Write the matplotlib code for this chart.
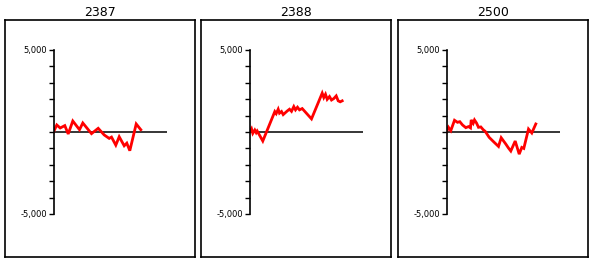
import matplotlib
matplotlib.use('Agg')
import matplotlib.pyplot as plt
from matplotlib.ticker import MultipleLocator, FixedLocator

titles = ['2387', '2388', '2500']

x_2387 = [0, 3.3, 6.7, 11.3, 14.7, 19.3, 26, 29.3, 38, 44.7, 50.7, 55.7, 58, 62.3,
          65.7, 70.7, 73.3, 76.3, 82.7, 87.3]
y_2387 = [0, 430, 245, 390, -120, 670, 140, 550, -100, 225, -180, -390, -310, -800,
          -290, -840, -680, -1140, 490, 140]

x_2388 = [0, 2, 3.3, 5.3, 6.7, 7.7, 13.3, 25.3, 26.7, 28.7, 30, 32, 33.7, 37.7, 40,
          42, 44.3, 46, 48, 50, 52.7, 62, 72.7, 74.3, 76, 77.7, 80, 82, 84.3, 86.7,
          88.7, 90.7, 92.7]
y_2388 = [0, 200, -80, 120, -40, 60, -550, 1245, 1120, 1390, 1150, 1250, 1060, 1280,
          1390, 1260, 1550, 1350, 1510, 1350, 1430, 800, 2370, 2100, 2300, 1990, 2160,
          1950, 2040, 2200, 1900, 1840, 1900]

x_2500 = [0, 2, 4.3, 8, 11, 13.3, 16, 19.3, 22, 24, 24.7, 26.7, 28, 30, 32, 34.3,
          36.7, 38.7, 42.7, 47.7, 52, 54.7, 59.3, 62, 64.3, 68.7, 72.7, 75.3, 77.3,
          82, 85.3, 89.3]
y_2500 = [0, 285, 80, 715, 590, 630, 430, 265, 330, 250, 735, 530, 735, 550, 285,
          310, 140, 40, -330, -630, -880, -350, -735, -980, -1160, -550, -1350, -940,
          -1000, 180, -60, 490]

series = [(x_2387, y_2387), (x_2388, y_2388), (x_2500, y_2500)]

W, H = 595, 263
fig = plt.figure(figsize=(W / 100, H / 100), dpi=100)

box_left = [5, 201, 398]
box_w, box_top, box_bot = 190, 20, 257
axis_off, axis_len = 48.5, 113
ytop, ybot = 50, 214

for i in range(3):
    # outer frame with title
    bx = fig.add_axes([box_left[i] / W, 1 - box_bot / H, box_w / W, (box_bot - box_top) / H])
    bx.set_xticks([])
    bx.set_yticks([])
    for s in bx.spines.values():
        s.set_linewidth(1.2)
    bx.set_title(titles[i], fontsize=9, pad=3)

    # inner plot
    ax = fig.add_axes([(box_left[i] + axis_off) / W, 1 - ybot / H, axis_len / W, (ybot - ytop) / H])
    ax.patch.set_alpha(0)
    for s in ['top', 'right', 'bottom']:
        ax.spines[s].set_visible(False)
    ax.spines['left'].set_linewidth(1.2)
    ax.set_ylim(-5000, 5000)
    ax.set_xlim(0, 113)
    ax.set_xticks([])
    ax.yaxis.set_major_locator(FixedLocator([-5000, 5000]))
    ax.yaxis.set_minor_locator(MultipleLocator(1000))
    ax.set_yticklabels(['-5,000', '5,000'])
    ax.tick_params(axis='y', which='both', length=3.5, width=1, direction='out',
                   labelsize=6, pad=1)
    ax.axhline(0, color='black', lw=1.1)
    xs, ys = series[i]
    ax.plot(xs, ys, color='red', lw=2, solid_joinstyle='miter')

fig.savefig('out.png', dpi=100)
